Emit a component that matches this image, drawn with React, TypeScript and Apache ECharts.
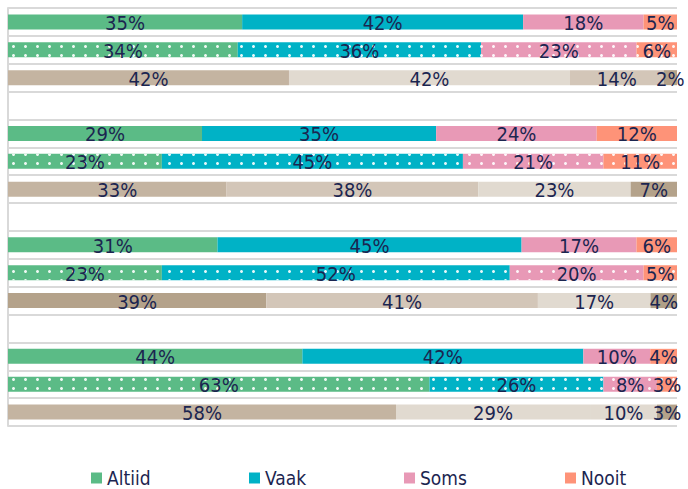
import React, { useEffect, useRef } from "react";
import * as echarts from "echarts";

const seriesNames = ["Altiid", "Vaak", "Soms", "Nooit"];

// Each group: three rows (solid, dotted, beige), values per answer (Altiid, Vaak, Soms, Nooit)
const group1 = [
  [35, 42, 18, 5],
  [34, 36, 23, 6],
  [42, 42, 14, 2],
];
const group2 = [
  [29, 35, 24, 12],
  [23, 45, 21, 11],
  [33, 38, 23, 7],
];
const group3 = [
  [31, 45, 17, 6],
  [23, 52, 20, 5],
  [39, 41, 17, 4],
];
const group4 = [
  [44, 42, 10, 4],
  [63, 26, 8, 3],
  [58, 29, 10, 3],
];
const groups = [group1, group2, group3, group4];

// styles
const mainColors = ["#5BBB86", "#00B2C6", "#E899B6", "#FE9378"];
const beigeColors = [
  ["#C4B4A1", "#E1DAD0", "#D3C6B8", "#B4A28A"],
  ["#C4B4A1", "#D3C6B8", "#E1DAD0", "#B4A28A"],
  ["#B4A28A", "#D3C6B8", "#E1DAD0", "#B0A088"],
  ["#C4B4A1", "#E1DAD0", "#E1DAD0", "#B4A28A"],
];
const labelColor = "#1B2550";
const gridColor = "#D9D9D9";
const font = "'DejaVu Sans Condensed', 'DejaVu Sans', sans-serif";

export default function App() {
  const ref = useRef<HTMLDivElement>(null);

  useEffect(() => {
    if (!ref.current) return;
    const chart = echarts.init(ref.current, undefined, { renderer: "svg" });

    type Row = { g: number; r: number } | null;
    const rows: Row[] = [];
    groups.forEach((grp, g) => {
      grp.forEach((_, r) => rows.push({ g, r }));
      if (g < groups.length - 1) rows.push(null);
    });
    const categories = rows.map((_, i) => "c" + i);

    const decal = {
      symbol: "circle",
      symbolSize: 1,
      dashArrayX: [2.2, 8.6],
      dashArrayY: [2.2, 5.3],
      color: "rgba(255,255,255,0.9)",
    };

    const series = seriesNames.map((name, s) => ({
      name,
      type: "bar",
      stack: "total",
      barWidth: 15,
      itemStyle: { color: mainColors[s] },
      label: {
        show: true,
        position: "inside",
        color: labelColor,
        fontFamily: font,
        fontSize: 20,
        offset: [0, 1],
        formatter: (p: any) => (p.data && p.data.raw != null ? p.data.raw + "%" : ""),
      },
      data: rows.map((row) => {
        if (!row) return { value: "-" };
        const vals = groups[row.g][row.r];
        const sum = vals.reduce((a, b) => a + b, 0);
        const raw = vals[s];
        const item: any = { value: (raw / sum) * 100, raw };
        if (row.r === 1) item.itemStyle = { color: mainColors[s], decal };
        if (row.r === 2) item.itemStyle = { color: beigeColors[row.g][s] };
        return item;
      }),
    }));

    const legendLefts = [91, 249, 404, 565];

    chart.setOption({
      animation: false,
      grid: { left: 8, right: 11, top: 8, bottom: 63, containLabel: false },
      xAxis: {
        type: "value",
        min: 0,
        max: 100,
        show: false,
        splitLine: { show: false },
      },
      yAxis: {
        type: "category",
        inverse: true,
        data: categories,
        axisLabel: { show: false },
        axisTick: { show: false },
        axisLine: { show: true, lineStyle: { color: gridColor, width: 2 } },
        splitLine: { show: true, lineStyle: { color: gridColor, width: 2 } },
      },
      legend: seriesNames.map((n, i) => ({
        data: [n],
        left: legendLefts[i],
        top: 468,
        padding: 0,
        icon: "rect",
        itemWidth: 11,
        itemHeight: 11,
        itemGap: 5,
        textStyle: { color: labelColor, fontFamily: font, fontSize: 19, lineHeight: 20 },
        selectedMode: false,
      })),
      series,
    });

    return () => chart.dispose();
  }, []);

  return <div ref={ref} style={{ width: 688, height: 489, position: "absolute", left: 0, top: 0 }} />;
}
